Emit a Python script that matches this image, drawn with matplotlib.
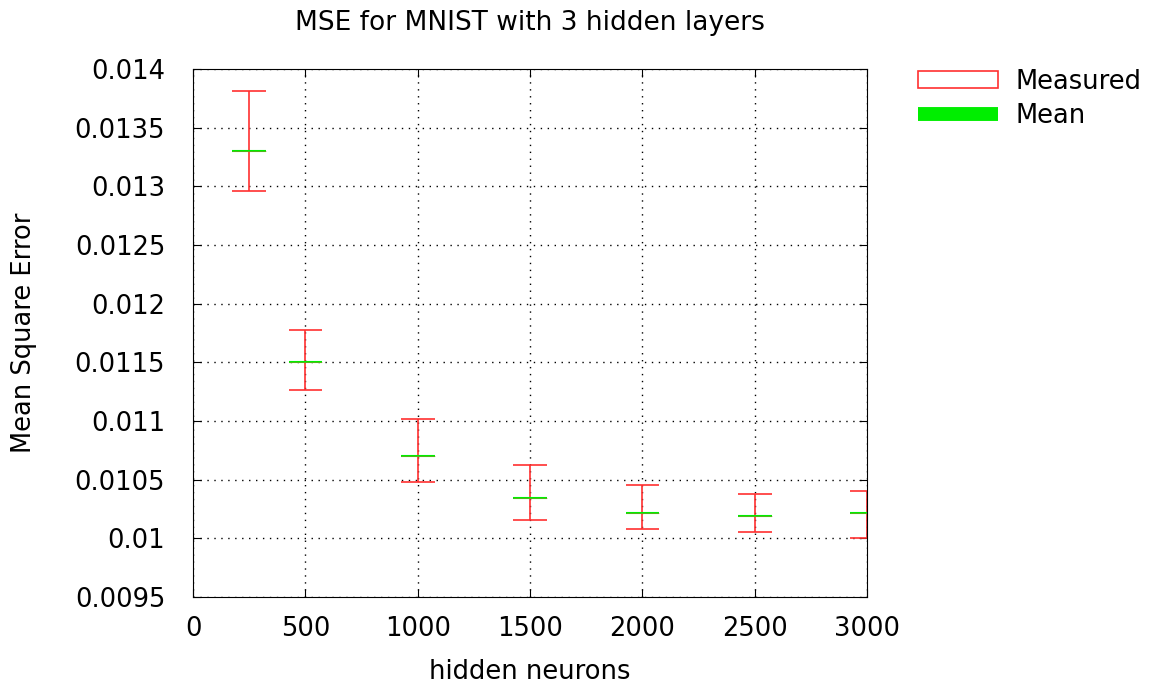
import matplotlib.pyplot as plt
from matplotlib.patches import Patch
from matplotlib.lines import Line2D

neurons = [250, 500, 1000, 1500, 2000, 2500, 3000]
mse_max = [0.01381, 0.011776, 0.011017, 0.010625, 0.010455, 0.010378, 0.010403]
mse_mean = [0.013301, 0.011503, 0.010702, 0.010344, 0.010216, 0.01019, 0.010216]
mse_min = [0.01296, 0.011264, 0.01048, 0.010156, 0.01008, 0.010054, 0.010003]

half = 75  # half-width of whisker caps in x units

plt.rcParams['font.family'] = 'DejaVu Sans'
fig = plt.figure(figsize=(11.51, 6.87), dpi=100)
ax = fig.add_axes([0.1677, 0.131, 0.5856, 0.7686])

lo = [x - half for x in neurons]
hi = [x + half for x in neurons]
ax.vlines(neurons, mse_min, mse_max, color='#ff3030', lw=1.2)
ax.hlines(mse_max, lo, hi, color='#ff3030', lw=1.2)
ax.hlines(mse_min, lo, hi, color='#ff3030', lw=1.2)
ax.hlines(mse_mean, lo, hi, color='#00ee00', lw=1.5, zorder=3)
ax.hlines(mse_mean, lo, hi, color='#a08030', lw=0.6, zorder=3, alpha=0.6)

ax.set_xlim(0, 3000)
ax.set_ylim(0.0095, 0.014)
ax.set_xticks([0, 500, 1000, 1500, 2000, 2500, 3000])
ax.set_yticks([0.0095, 0.01, 0.0105, 0.011, 0.0115, 0.012, 0.0125, 0.013, 0.0135, 0.014])
ax.set_yticklabels(['0.0095', '0.01', '0.0105', '0.011', '0.0115', '0.012',
                    '0.0125', '0.013', '0.0135', '0.014'])
ax.tick_params(direction='in', top=True, right=True, labelsize=18.5, length=6)
ax.tick_params(axis='x', pad=14)
ax.tick_params(axis='y', pad=20)
ax.grid(True, linestyle=(0, (1, 4)), color='black', lw=1)

ax.set_xlabel('hidden neurons', fontsize=18.5, labelpad=12)
ax.set_ylabel('Mean Square Error', fontsize=18.5, labelpad=27)
ax.set_title('MSE for MNIST with 3 hidden layers', fontsize=19, pad=28)

handles = [Patch(facecolor='white', edgecolor='#ff3030', lw=1.2),
           Line2D([0], [0], color='#00ee00', lw=10, solid_capstyle='butt')]
fig.legend(handles, ['Measured', 'Mean'], loc='upper left',
           bbox_to_anchor=(0.7976, 0.9), frameon=False, fontsize=18.5,
           borderpad=0, borderaxespad=0,
           handlelength=3.1, handleheight=0.6, labelspacing=0.32, handletextpad=0.7)

fig.savefig('out.png', dpi=100)
